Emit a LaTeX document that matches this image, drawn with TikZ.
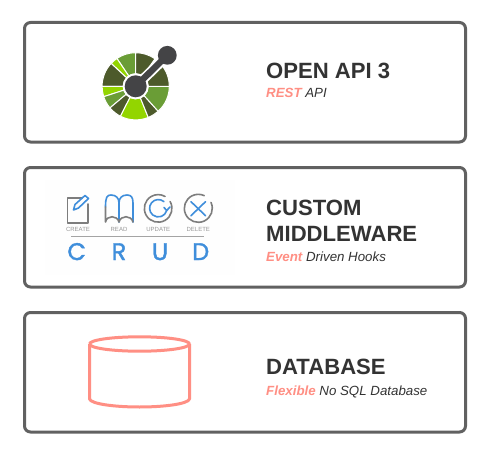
\documentclass[tikz,border=0pt]{standalone}
\usepackage{fontspec}
\setmainfont{Liberation Sans}
\newfontfamily\crudfont[FakeBold=1.6]{Poppins}
\definecolor{boxgray}{HTML}{616161}
\definecolor{titlegray}{HTML}{333333}
\definecolor{salmon}{HTML}{FF8F84}
\definecolor{oasdark}{HTML}{4D5A2B}
\definecolor{oasmid}{HTML}{6A9D36}
\definecolor{oasbright}{HTML}{93D500}
\definecolor{oashub}{HTML}{444446}
\definecolor{crudblue}{HTML}{3F8EDB}
\definecolor{crudgray}{HTML}{7D7D7D}
\definecolor{photobg}{HTML}{FEFEFE}
\tikzset{
  card/.style={draw=boxgray,line width=3,rounded corners=6,fill=white},
  title/.style={anchor=base west,inner sep=0,font=\fontsize{22.1}{22}\selectfont\bfseries,text=titlegray},
  subtitle/.style={anchor=base west,inner sep=0,font=\fontsize{13.3}{13}\selectfont\itshape,text=titlegray},
  crudlabel/.style={inner sep=0,font=\fontsize{6}{6}\selectfont,text=crudgray!80},
  crudletter/.style={inner sep=0,font=\fontsize{24}{24}\selectfont\crudfont,text=crudblue},
  iconblue/.style={draw=crudblue,line width=1.6,line cap=round,line join=round},
  icongray/.style={draw=crudgray,line width=1.6,line cap=round,line join=round},
  dbline/.style={draw=salmon,line width=3,line join=round},
}
\newcommand{\oassector}[4]{\fill[#1,draw=white,line width=1] (#2:#4) arc[start angle=#2,end angle=#3,radius=#4] -- (#3:12.5) arc[start angle=#3,end angle=#2,radius=12.5] -- cycle;}
\begin{document}
\begin{tikzpicture}[x=1pt,y=-1pt]
\useasboundingbox (0,0) rectangle (490,452);
\fill[white] (0,0) rectangle (490,452);
% cards
\draw[card] (24.5,22.5) rectangle (465.5,142);
\draw[card] (24.5,167.5) rectangle (465.5,287);
\draw[card] (24.5,312.5) rectangle (465.5,432);
\fill[photobg] (45,180) rectangle (235,275);
% OpenAPI logo
\begin{scope}[shift={(135.7,86.3)},x=1pt,y=1pt]
  \oassector{oasmid}{90}{124}{33.6}
  \oassector{oasbright}{124}{137}{33.6}
  \oassector{oasdark}{137}{180}{33.6}
  \oassector{oasbright}{180}{198}{33.6}
  \oassector{oasmid}{198}{220}{33.6}
  \oassector{oasdark}{220}{243}{33.6}
  \oassector{oasbright}{243}{292}{33.6}
  \oassector{oasdark}{292}{312}{33.6}
  \oassector{oasmid}{312}{360}{33.6}
  \oassector{oasdark}{0}{42}{33.6}
  \oassector{oasdark}{55}{90}{33.6}
  \draw[white,line width=10] (0,0) -- (32,31);
  \fill[white] (0,0) circle (13);
  \draw[oashub,line width=6.4] (0,0) -- (31.6,31);
  \fill[oashub] (0,0) circle (11);
  \fill[oashub] (31.6,31) circle (9.4);
\end{scope}
% CRUD: create
\draw[icongray] (82,198) -- (67.5,198) -- (67.5,223) -- (88,223) -- (88,204);
\draw[iconblue] (73.5,210) -- (75,204.5) -- (85,195.5) -- (88.5,198.5) -- (78.5,208) -- cycle;
% CRUD: read
\draw[iconblue] (105.5,207) .. controls (105.5,197) and (107,195) .. (111,195) .. controls (116,195) and (119,198) .. (119,203) -- (119,222);
\draw[iconblue] (119,203) .. controls (119,198) and (122,195) .. (127,195) .. controls (131,195) and (133,197) .. (133,203) -- (133,222);
\draw[icongray] (105.5,207) -- (105.5,222) .. controls (107,215) and (117,215) .. (119,222) .. controls (121,215) and (131,215) .. (133,222);
% CRUD: update
\draw[icongray] (170.1,201.5) arc[start angle=-30,end angle=300,radius=13.8];
\draw[iconblue] (163.9,201.6) arc[start angle=-50,end angle=-345,radius=8.7];
\draw[iconblue] (164,207.5) -- (166.7,210.5) -- (170,207);
% CRUD: delete
\draw[icongray] (211,202.4) arc[start angle=-25,end angle=295,radius=14];
\draw[iconblue] (191,201.7) -- (205.5,215.7);
\draw[iconblue] (205.5,201.7) -- (191,215.7);
% CRUD labels
\node[crudlabel] (lblcreate) at (78,229.3) {CREATE};
\node[crudlabel] (lblread) at (119,229.3) {READ};
\node[crudlabel] (lblupdate) at (158.3,229.3) {UPDATE};
\node[crudlabel] (lbldelete) at (198.3,229.3) {DELETE};
\draw[crudgray!70,line width=1.4] (71,236.7) -- (204,236.7);
\node[crudletter,anchor=base] (ltrc) at (76.7,260) {C};
\node[crudletter,anchor=base] (ltrr) at (119,260) {R};
\node[crudletter,anchor=base] (ltru) at (160,260) {U};
\node[crudletter,anchor=base] (ltrd) at (200.7,260) {D};
% Database cylinder
\draw[dbline] (89.5,344) arc[start angle=180,end angle=540,x radius=50,y radius=7.2];
\draw[dbline] (89.5,344) -- (89.5,399) .. controls (91,404) and (115,407) .. (139.5,407) .. controls (164,407) and (188,404) .. (189.5,399) -- (189.5,344);
% Text
\node[title] (t1) at (266,78.3) {OPEN API 3};
\node[subtitle] (s1) at (266,98) {\textcolor{salmon}{\bfseries REST} API};
\node[title] (t2a) at (266,215) {CUSTOM};
\node[title] (t2b) at (266,241) {MIDDLEWARE};
\node[subtitle] (s2) at (266,261) {\textcolor{salmon}{\bfseries Event} Driven Hooks};
\node[title] (t3) at (266,374.5) {DATABASE};
\node[subtitle] (s3) at (266,395) {\textcolor{salmon}{\bfseries Flexible} No SQL Database};
\end{tikzpicture}
\end{document}
